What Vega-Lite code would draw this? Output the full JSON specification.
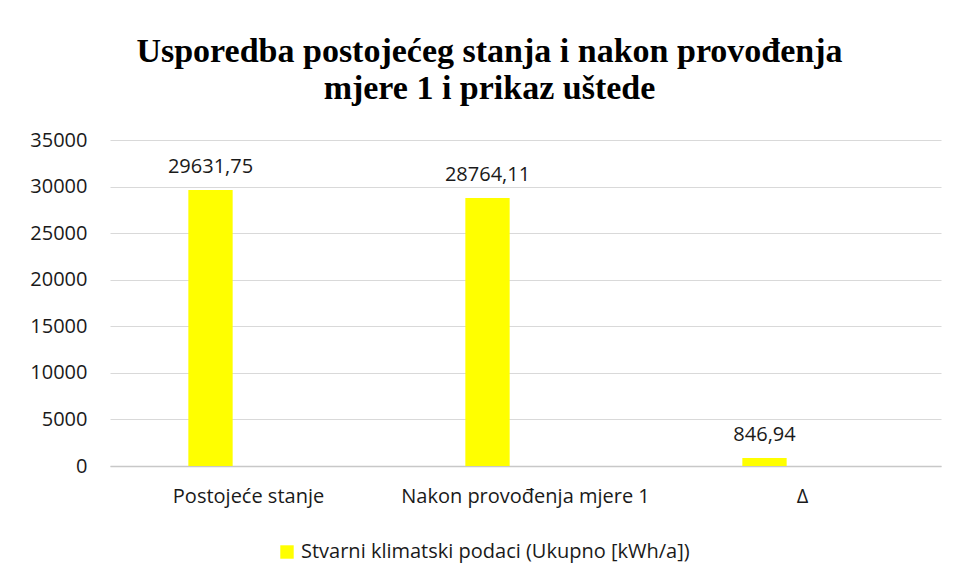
{
  "$schema": "https://vega.github.io/schema/vega-lite/v6.json",
  "width": 831,
  "height": 326,
  "autosize": {"type": "none"},
  "padding": {"left": 110, "top": 140, "right": 16, "bottom": 115},
  "background": "#ffffff",
  "config": {
    "view": {"stroke": null},
    "locale": {"number": {"decimal": ",", "thousands": "", "grouping": [3], "currency": ["", ""]}},
    "font": "Open Sans"
  },
  "title": {
    "text": ["Usporedba postojećeg stanja i nakon provođenja", "mjere 1 i prikaz uštede"],
    "font": "Liberation Serif",
    "fontSize": 34,
    "fontWeight": "bold",
    "color": "#000000",
    "anchor": "middle",
    "dx": -36,
    "baseline": "alphabetic",
    "offset": -3,
    "lineHeight": 37
  },
  "data": {
    "values": [
      {"kategorija": "Postojeće stanje", "vrijednost": 29631.75, "serija": "Stvarni klimatski podaci (Ukupno [kWh/a])"},
      {"kategorija": "Nakon provođenja mjere 1", "vrijednost": 28764.11, "serija": "Stvarni klimatski podaci (Ukupno [kWh/a])"},
      {"kategorija": "Δ", "vrijednost": 846.94, "serija": "Stvarni klimatski podaci (Ukupno [kWh/a])"}
    ]
  },
  "encoding": {
    "x": {
      "field": "kategorija",
      "type": "nominal",
      "sort": null,
      "scale": {"paddingInner": 0.84, "paddingOuter": 0.42},
      "axis": {
        "title": null,
        "labelAngle": 0,
        "labelFont": "Open Sans",
        "labelFontSize": 20,
        "labelColor": "#1a1a1a",
        "labelPadding": 20,
        "labelLimit": 400,
        "ticks": false,
        "domainColor": "#c8c8c8",
        "domainWidth": 1.5
      }
    },
    "y": {
      "field": "vrijednost",
      "type": "quantitative",
      "scale": {"domain": [0, 35000]},
      "axis": {
        "title": null,
        "values": [0, 5000, 10000, 15000, 20000, 25000, 30000, 35000],
        "format": "d",
        "labelFont": "Open Sans",
        "labelFontSize": 20,
        "labelColor": "#1a1a1a",
        "labelPadding": 23,
        "ticks": false,
        "domain": false,
        "gridColor": "#d9d9d9",
        "gridWidth": 1
      }
    }
  },
  "layer": [
    {
      "mark": {"type": "bar", "xOffset": -38},
      "encoding": {
        "color": {
          "field": "serija",
          "type": "nominal",
          "scale": {"range": ["#ffff00"]},
          "legend": {
            "title": null,
            "orient": "none",
            "legendX": 167,
            "legendY": 402,
            "symbolType": "square",
            "symbolSize": 180,
            "symbolStrokeWidth": 0,
            "labelFont": "Open Sans",
            "labelFontSize": 20,
            "labelColor": "#1a1a1a",
            "labelLimit": 600
          }
        }
      }
    },
    {
      "mark": {"type": "text", "xOffset": -38, "dy": -17, "baseline": "alphabetic", "fontSize": 20, "font": "Open Sans", "color": "#1a1a1a"},
      "encoding": {
        "text": {"field": "vrijednost", "type": "quantitative", "format": ".2f"}
      }
    }
  ]
}
